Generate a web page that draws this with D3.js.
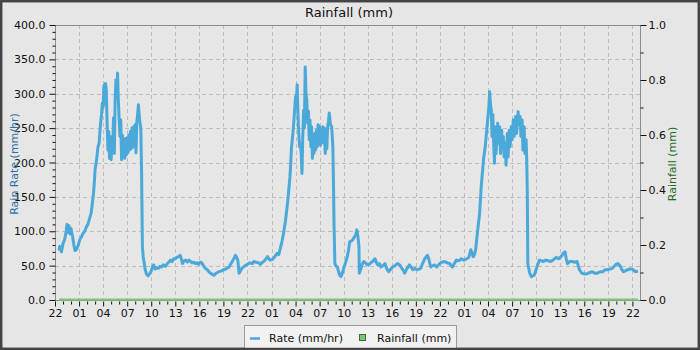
<!DOCTYPE html>
<html>
<head>
<meta charset="utf-8">
<script src="https://cdn.jsdelivr.net/npm/d3@7/dist/d3.min.js"></script>
<style>
  body { margin: 0; background: #fff; }
  svg { display: block; font-family: "DejaVu Sans", sans-serif; }
</style>
</head>
<body>
<svg id="chart" width="700" height="350"></svg>
<script>

var margin = ({top: 25, right: 60, bottom: 50, left: 55});
var size = {width: 700, height: 350};

// hours after 22:00 on the first day
var xTickHours = d3.range(0, 73, 3);
var xTickLabels = ["22","01","04","07","10","13","16","19",
                   "22","01","04","07","10","13","16","19",
                   "22","01","04","07","10","13","16","19","22"];
var rateTicks = [0, 50, 100, 150, 200, 250, 300, 350, 400];
var rainTicks = [0, 0.2, 0.4, 0.6, 0.8, 1.0];

// rain rate (mm/hr): [hour, value]
var rateSeries = [
  [0.5,72],[0.6,78],[0.8,70],[1.0,82],[1.2,88],[1.4,100],[1.5,110],[1.6,98],[1.75,108],[1.9,96],
  [2.0,104],[2.2,92],[2.35,80],[2.5,72],[2.7,74],[2.9,80],[3.1,88],[3.3,92],[3.5,97],[3.7,100],
  [3.9,106],[4.1,110],[4.3,118],[4.5,126],[4.65,140],[4.8,155],[4.9,170],[5.0,190],[5.2,205],[5.35,222],
  [5.5,228],[5.65,252],[5.8,270],[5.9,286],[6.0,280],[6.1,312],[6.2,285],[6.3,315],[6.4,305],[6.5,255],
  [6.6,218],[6.7,245],[6.8,206],[6.9,238],[7.0,204],[7.1,230],[7.2,222],[7.3,265],[7.4,213],[7.5,290],
  [7.6,320],[7.7,300],[7.8,330],[7.9,290],[8.0,262],[8.1,238],[8.2,262],[8.3,204],[8.4,240],[8.5,208],
  [8.6,233],[8.7,206],[8.8,235],[8.9,211],[9.0,236],[9.1,214],[9.2,240],[9.3,218],[9.4,245],[9.5,220],
  [9.6,250],[9.7,222],[9.8,252],[9.9,224],[10.0,255],[10.1,214],[10.2,258],[10.3,270],[10.4,284],[10.55,262],
  [10.7,250],[10.8,184],[10.9,78],[11.0,62],[11.1,56],[11.25,44],[11.4,38],[11.6,35],[11.8,38],[12.0,42],
  [12.15,48],[12.3,51],[12.5,45],[12.7,47],[12.9,46],[13.1,49],[13.3,48],[13.5,51],[13.75,49],[14.0,53],
  [14.2,55],[14.4,58],[14.6,56],[14.8,60],[15.0,60],[15.2,62],[15.4,63],[15.6,65],[15.75,60],[15.9,53],
  [16.1,57],[16.3,58],[16.5,55],[16.7,58],[16.9,56],[17.1,54],[17.3,55],[17.5,53],[17.7,54],[17.9,52],
  [18.1,55],[18.3,54],[18.5,50],[18.75,46],
  [19.0,44],[19.2,41],[19.5,38],[19.8,36],[20.1,39],[20.4,41],[20.7,42],[21.0,44],[21.3,45],[21.7,48],
  [21.9,52],[22.1,56],[22.3,60],[22.5,65],[22.65,62],[22.8,58],[22.95,39],[23.1,42],[23.3,46],[23.6,49],
  [24.0,52],[24.3,54],[24.6,53],[24.8,56],[25.1,55],[25.4,54],[25.6,52],[25.9,55],[26.2,58],[26.5,63],
  [26.8,58],[27.1,59],[27.4,63],[27.7,68],[27.9,66],[28.1,75],[28.3,85],[28.5,97],[28.75,116],[29.0,141],
  [29.15,160],[29.3,179],[29.4,200],[29.5,223],[29.65,240],[29.8,262],[29.9,280],[30.0,296],[30.1,290],[30.2,313],
  [30.3,270],[30.4,242],[30.5,223],[30.6,228],[30.7,213],[30.8,184],[30.9,238],[31.0,276],[31.1,250],[31.2,339],
  [31.3,300],[31.4,291],[31.5,257],[31.6,275],[31.7,233],[31.8,262],[31.9,223],[32.0,252],[32.1,206],[32.2,233],
  [32.3,213],[32.4,242],[32.5,218],[32.6,247],[32.7,223],[32.8,255],[32.9,228],[33.0,252],[33.1,225],[33.2,248],
  [33.3,230],[33.4,252],[33.5,228],[33.6,250],[33.7,213],[33.8,242],[33.9,220],[34.0,252],[34.1,260],[34.2,272],
  [34.35,255],[34.5,252],[34.65,223],[34.75,150],[34.8,107],[34.9,53],[35.0,50],[35.2,48],[35.35,42],[35.5,36],
  [35.65,34],[35.8,38],[36.0,46],[36.2,53],
  [36.45,63],[36.6,72],[36.75,85],[37.0,86],[37.15,88],[37.35,92],[37.5,95],[37.65,102],[37.8,90],[37.9,78],
  [37.95,39],[38.1,44],[38.3,52],[38.5,56],[38.7,54],[38.9,52],[39.1,51],[39.35,54],[39.6,56],[39.9,60],
  [40.1,54],[40.25,51],[40.45,53],[40.65,48],[40.9,50],[41.15,53],[41.35,46],[41.6,41],[41.8,44],[42.1,48],
  [42.4,50],[42.7,53],[43.0,51],[43.25,46],[43.5,42],[43.6,39],[43.9,46],[44.2,51],[44.45,47],[44.65,44],
  [44.9,46],[45.15,44],[45.4,45],[45.6,46],[45.8,52],[46.1,60],[46.45,65],[46.6,60],[46.85,48],[47.1,50],
  [47.35,51],[47.6,48],[47.9,52],[48.2,55],[48.6,56],[48.9,54],[49.2,53],[49.55,48],[49.8,53],[50.05,58],
  [50.4,57],[50.65,60],[51.0,58],[51.35,60],[51.6,62],[51.85,73],[52.05,66],[52.15,63],[52.3,66],[52.45,73],
  [52.65,95],[52.95,126],[53.15,165],[53.45,206],[53.65,223],[53.95,262],[54.1,280],[54.2,303],[54.3,285],[54.4,276],
  [54.5,238],[54.6,270],[54.7,228],[54.8,199],
  [54.9,252],[55.0,213],[55.2,257],[55.3,228],[55.45,252],[55.55,213],[55.7,247],[55.8,223],[55.9,238],[56.0,208],
  [56.15,228],[56.25,196],[56.4,242],[56.5,208],[56.65,247],[56.75,223],[56.9,252],[57.0,233],[57.15,262],[57.25,238],
  [57.45,267],[57.55,242],[57.75,274],[57.85,255],[58.0,267],[58.1,238],[58.25,262],[58.35,218],[58.5,252],[58.6,213],
  [58.75,233],[58.82,204],[58.9,155],[58.96,53],[59.2,39],[59.4,34],[59.75,36],[60.1,48],[60.4,58],[60.7,57],
  [60.9,56],[61.2,58],[61.5,57],[61.8,56],[62.1,58],[62.5,62],[62.8,60],[63.1,63],[63.4,68],[63.6,70],
  [63.75,60],[63.9,53],[64.2,56],[64.5,56],[64.8,55],[65.1,56],[65.4,44],[65.7,39],[66.0,38],[66.3,38],
  [66.7,40],[67.0,41],[67.3,39],[67.6,39],[68.0,41],[68.3,41],[68.6,44],[68.9,44],[69.2,45],[69.5,46],
  [69.8,50],[70.0,52],[70.2,53],[70.5,49],[70.7,44],[70.9,41],[71.2,43],[71.4,44],[71.7,45],[72.0,45],
  [72.2,43],[72.4,41],[72.7,42]
];

// rainfall (mm): nothing fell, the series sits on zero
var rainHours = [0.5, 72.7];
var rainValues = [0.0, 0.0];

var svg = d3.select('#chart');

// background and outer frame
svg.append('rect')
  .attr('x', 1).attr('y', 1)
  .attr('width', size.width - 2).attr('height', size.height - 2)
  .attr('fill', '#e6e6e6')
  .attr('stroke', '#444').attr('stroke-width', 2.5);

var x = d3.scaleLinear().domain([0, 72.95]).range([margin.left, size.width - margin.right]);
var yRate = d3.scaleLinear().domain([0, 400]).range([size.height - margin.bottom, margin.top]);
var yRain = d3.scaleLinear().domain([0, 1]).range([size.height - margin.bottom, margin.top]);

var plotBottom = size.height - margin.bottom;
var plotRight = size.width - margin.right;

// grid
var grid = svg.append('g').attr('stroke', '#bdbdbd').attr('stroke-dasharray', '4,3').attr('stroke-width', 1);
grid.selectAll('.hg').data(rateTicks.slice(1, -1)).enter().append('line')
  .attr('x1', margin.left).attr('x2', plotRight)
  .attr('y1', d => Math.round(yRate(d)) + 0.5).attr('y2', d => Math.round(yRate(d)) + 0.5);
grid.selectAll('.vg').data(xTickHours.slice(1)).enter().append('line')
  .attr('x1', d => Math.round(x(d)) + 0.5).attr('x2', d => Math.round(x(d)) + 0.5)
  .attr('y1', margin.top).attr('y2', plotBottom);

// plot frame
svg.append('rect')
  .attr('x', margin.left + 0.5).attr('y', margin.top + 0.5)
  .attr('width', plotRight - margin.left).attr('height', plotBottom - margin.top)
  .attr('fill', 'none').attr('stroke', '#8c8c8c').attr('stroke-width', 1);

// left axis
var leftAxis = svg.append('g').attr('transform', 'translate(' + (margin.left + 0.5) + ',0)')
  .call(d3.axisLeft(yRate).tickValues(d3.range(0, 401, 10)).tickSize(3).tickFormat(''));
leftAxis.selectAll('.tick').filter(d => d % 50 === 0).select('line').attr('x2', -6);
leftAxis.selectAll('.tick').filter(d => d % 50 === 0).select('text')
  .text(d => d3.format('.1f')(d)).attr('x', -10);
leftAxis.select('.domain').remove();
leftAxis.selectAll('line').attr('stroke', '#111');
leftAxis.selectAll('text').attr('font-size', 11).attr('fill', '#111').attr('font-family', 'DejaVu Sans');

// right axis
var rightAxis = svg.append('g').attr('transform', 'translate(' + (plotRight + 0.5) + ',0)')
  .call(d3.axisRight(yRain).tickValues(d3.range(0, 11).map(d => d / 10)).tickSize(3).tickFormat(''));
rightAxis.selectAll('.tick').filter((d, i) => i % 2 === 0).select('line').attr('x2', 6);
rightAxis.selectAll('.tick').filter((d, i) => i % 2 === 0).select('text')
  .text(d => d3.format('.1f')(d)).attr('x', 8);
rightAxis.select('.domain').remove();
rightAxis.selectAll('line').attr('stroke', '#111');
rightAxis.selectAll('text').attr('font-size', 11).attr('fill', '#111').attr('font-family', 'DejaVu Sans');

// bottom axis: hourly minor ticks, labelled every 3 hours
var bottomAxis = svg.append('g').attr('transform', 'translate(0,' + (plotBottom + 1.5) + ')')
  .call(d3.axisBottom(x).tickValues(d3.range(0, 73, 1)).tickSize(3).tickFormat(''));
bottomAxis.selectAll('.tick').filter(d => d % 3 === 0).select('line').attr('y2', 5);
bottomAxis.selectAll('.tick').filter(d => d % 3 === 0).select('text')
  .text(d => xTickLabels[xTickHours.indexOf(d)]).attr('y', 8);
bottomAxis.select('.domain').remove();
bottomAxis.selectAll('line').attr('stroke', '#111');
bottomAxis.selectAll('text').attr('font-size', 11).attr('fill', '#111').attr('font-family', 'DejaVu Sans');

// rainfall on zero
var rainLine = d3.line().x((d, i) => x(rainHours[i])).y(d => yRain(d) - 0.5);
svg.append('path').datum(rainValues)
  .attr('d', rainLine)
  .attr('fill', 'none').attr('stroke', '#7cc576').attr('stroke-width', 2);

// rain rate
var rateLine = d3.line().x(d => x(d[0])).y(d => yRate(d[1]));
svg.append('path').datum(rateSeries)
  .attr('d', rateLine)
  .attr('fill', 'none').attr('stroke', '#4ba9da')
  .attr('stroke-width', 3).attr('stroke-linejoin', 'round');

// title and axis labels
svg.append('text').attr('x', 349).attr('y', 16.5).attr('text-anchor', 'middle')
  .attr('font-size', 13).attr('fill', '#111').text('Rainfall (mm)');
svg.append('text').attr('transform', 'translate(18,164) rotate(-90)').attr('text-anchor', 'middle')
  .attr('font-size', 11).attr('fill', '#2a70a6').text('Rain Rate (mm/hr)');
svg.append('text').attr('transform', 'translate(676,164) rotate(-90)').attr('text-anchor', 'middle')
  .attr('font-size', 11).attr('fill', '#1f6b1f').text('Rainfall (mm)');

// legend
var legend = svg.append('g');
legend.append('rect').attr('x', 244.5).attr('y', 325.5).attr('width', 212).attr('height', 24)
  .attr('fill', '#f2f2f2').attr('stroke', '#9a9a9a');
legend.append('line').attr('x1', 250).attr('x2', 260).attr('y1', 338.5).attr('y2', 338.5)
  .attr('stroke', '#4ba9da').attr('stroke-width', 2.5);
legend.append('text').attr('x', 269).attr('y', 341.5).attr('font-size', 11).attr('fill', '#111')
  .text('Rate (mm/hr)');
legend.append('rect').attr('x', 359.5).attr('y', 334.5).attr('width', 6).attr('height', 6)
  .attr('fill', '#7cc576').attr('stroke', '#3f6b3f');
legend.append('text').attr('x', 377).attr('y', 341.5).attr('font-size', 11).attr('fill', '#111')
  .text('Rainfall (mm)');

// redraw outer frame on top so the legend box tucks under it
svg.append('rect')
  .attr('x', 1).attr('y', 1)
  .attr('width', size.width - 2).attr('height', size.height - 2)
  .attr('fill', 'none')
  .attr('stroke', '#444').attr('stroke-width', 2.5);

</script>
</body>
</html>
